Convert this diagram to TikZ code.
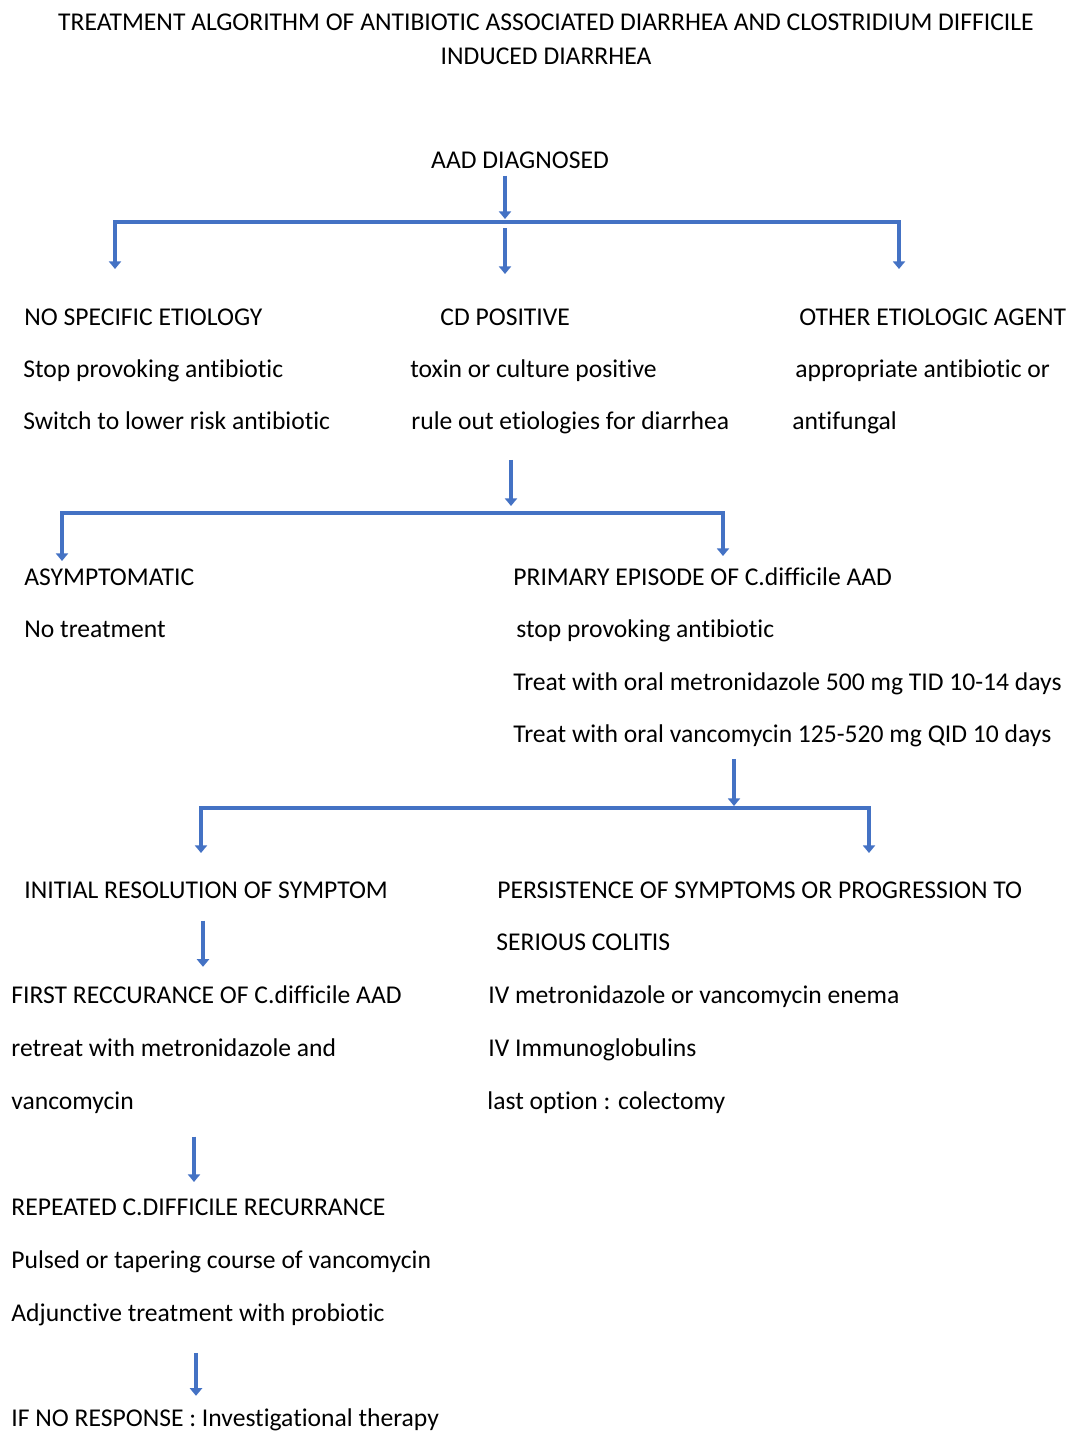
\documentclass[tikz,border=0pt]{standalone}
\usepackage{fontspec}
\setmainfont{Carlito}[Ligatures=NoCommon]
\usetikzlibrary{arrows.meta,positioning}
\definecolor{ablue}{RGB}{68,114,196}
\newcommand{\flowfont}{\fontsize{12.8}{15}\selectfont}
\tikzset{
  >={Triangle[width=6pt,length=3.8pt]},
  line/.style={anchor=base west,inner sep=0pt,font=\flowfont},
  head/.style={anchor=base,inner sep=0pt,font=\flowfont},
  arr/.style={->,draw=ablue,line width=2pt},
  fork/.style={<->,draw=ablue,line width=2pt,line join=miter}
}
\begin{document}
\begin{tikzpicture}[x=0.5pt,y=-0.5pt]
  \useasboundingbox (0,0) rectangle (1067,1431);
  % title and start
  \node[head] (title1) at (546,30) {TREATMENT ALGORITHM OF ANTIBIOTIC ASSOCIATED DIARRHEA AND CLOSTRIDIUM DIFFICILE};
  \node[head] (title2) at (546,64) {INDUCED DIARRHEA};
  \node[head] (aad) at (520,168) {AAD DIAGNOSED};
  % first split
  \node[line] (nse) at (24,325) {NO SPECIFIC ETIOLOGY};
  \node[line] (nse1) at (23,377) {Stop provoking antibiotic};
  \node[line] (nse2) at (23,429) {Switch to lower risk antibiotic};
  \node[line] (cdp) at (440,325) {CD POSITIVE};
  \node[line] (cdp1) at (410,377) {toxin or culture positive};
  \node[line] (cdp2) at (411,429) {rule out etiologies for diarrhea};
  \node[line] (oea) at (799,325) {OTHER ETIOLOGIC AGENT};
  \node[line] (oea1) at (795,377) {appropriate antibiotic or};
  \node[line] (oea2) at (792,429) {antifungal};
  % second split
  \node[line] (asym) at (24,585) {ASYMPTOMATIC};
  \node[line] (asym1) at (24,637) {No treatment};
  \node[line] (prim) at (513,585) {PRIMARY EPISODE OF C.difficile AAD};
  \node[line] (prim1) at (516,637) {stop provoking antibiotic};
  \node[line] (prim2) at (513,690) {Treat with oral metronidazole 500 mg TID 10-14 days};
  \node[line] (prim3) at (513,742) {Treat with oral vancomycin 125-520 mg QID 10 days};
  % third split
  \node[line] (init) at (24,898) {INITIAL RESOLUTION OF SYMPTOM};
  \node[line] (pers) at (497,898) {PERSISTENCE OF SYMPTOMS OR PROGRESSION TO};
  \node[line] (pers1) at (496,950) {SERIOUS COLITIS};
  \node[line] (pers2) at (488,1003) {IV metronidazole or vancomycin enema};
  \node[line] (pers3) at (488,1056) {IV Immunoglobulins};
  \node[line] (pers4) at (487,1109) {last option : colectomy};
  \node[line] (first) at (11,1003) {FIRST RECCURANCE OF C.difficile AAD};
  \node[line] (first1) at (11,1056) {retreat with metronidazole and};
  \node[line] (first2) at (11,1109) {vancomycin};
  \node[line] (rep) at (11,1215) {REPEATED C.DIFFICILE RECURRANCE};
  \node[line] (rep1) at (11,1268) {Pulsed or tapering course of vancomycin};
  \node[line] (rep2) at (11,1321) {Adjunctive treatment with probiotic};
  \node[line] (nores) at (11,1426) {IF NO RESPONSE : Investigational therapy};
  % junctions and arrow tips
  \coordinate (j1) at (505,219);
  \coordinate (j1m) at (505,228);
  \coordinate (t1l) at (115,269);
  \coordinate (t1m) at (505,274);
  \coordinate (t1r) at (899,269);
  \coordinate (j2) at (511,506);
  \coordinate (t2l) at (62,561);
  \coordinate (t2r) at (723,556);
  \coordinate (j3) at (734,806);
  \coordinate (t3l) at (201,853);
  \coordinate (t3r) at (869,853);
  % connectors
  \draw[arr] ([yshift=-3.5pt]aad.south -| j1) -- (j1);
  \draw[fork] (t1l) -- (t1l |- 0,222) -- (t1r |- 0,222) -- (t1r);
  \draw[arr] (j1m) -- (t1m);
  \draw[arr] ([yshift=-13pt]cdp2.south -| j2) -- (j2);
  \draw[fork] (t2l) -- (t2l |- 0,513) -- (t2r |- 0,513) -- (t2r);
  \draw[arr] ([yshift=-6pt]prim3.south -| j3) -- (j3);
  \draw[fork] (t3l) -- (t3l |- 0,808) -- (t3r |- 0,808) -- (t3r);
  \draw[arr] ([yshift=-11pt]init.south -| 203,0) -- ([yshift=9pt]first.north -| 203,0);
  \draw[arr] ([yshift=-11.5pt]first2.south -| 194,0) -- ([yshift=8pt]rep.north -| 194,0);
  \draw[arr] ([yshift=-13.5pt]rep2.south -| 196,0) -- ([yshift=6pt]nores.north -| 196,0);
\end{tikzpicture}
\end{document}
